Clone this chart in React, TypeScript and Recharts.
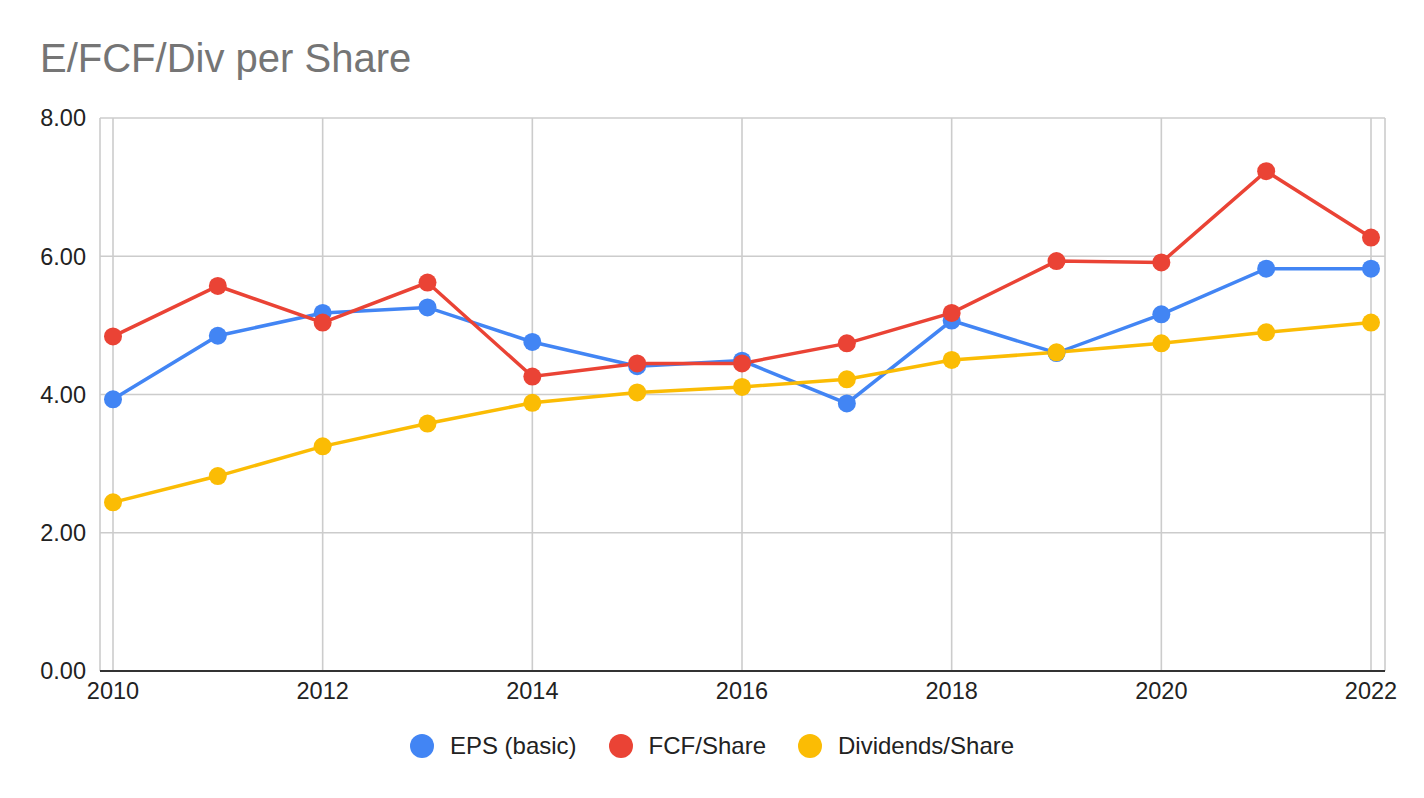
import React from 'react';
import { CartesianGrid, Legend, Line, LineChart, XAxis, YAxis } from 'recharts';

// values
const years = [2010, 2011, 2012, 2013, 2014, 2015, 2016, 2017, 2018, 2019, 2020, 2021, 2022];
const epsBasic = [3.93, 4.85, 5.18, 5.26, 4.76, 4.41, 4.49, 3.87, 5.07, 4.6, 5.16, 5.82, 5.82];
const fcfShare = [4.84, 5.57, 5.04, 5.62, 4.26, 4.45, 4.45, 4.74, 5.18, 5.93, 5.91, 7.23, 6.27];
const divShare = [2.44, 2.82, 3.25, 3.58, 3.88, 4.03, 4.11, 4.22, 4.5, 4.61, 4.74, 4.9, 5.04];
const xTicks = [2010, 2012, 2014, 2016, 2018, 2020, 2022];
const yTicks = [0, 2, 4, 6, 8];

const FONT = '"Liberation Sans", Arial, sans-serif';

const series = [
  { key: 'eps', name: 'EPS (basic)', color: '#4285F4' },
  { key: 'fcf', name: 'FCF/Share', color: '#EA4335' },
  { key: 'div', name: 'Dividends/Share', color: '#FBBC04' },
];

const chartData = years.map((year, i) => ({
  year,
  eps: epsBasic[i],
  fcf: fcfShare[i],
  div: divShare[i],
}));

// legend in series order (recharts sorts payload by name otherwise)
function LegendContent() {
  return (
    <div
      style={{
        display: 'flex',
        justifyContent: 'center',
        alignItems: 'center',
        gap: 32,
        fontFamily: FONT,
        fontSize: 24,
        lineHeight: '24px',
        color: '#222',
      }}
    >
      {series.map((s) => (
        <div key={s.key} style={{ display: 'flex', alignItems: 'center' }}>
          <span
            style={{
              display: 'inline-block',
              width: 24,
              height: 24,
              borderRadius: '50%',
              background: s.color,
              marginRight: 16,
            }}
          />
          <span>{s.name}</span>
        </div>
      ))}
    </div>
  );
}

export default function App() {
  return (
    <div style={{ position: 'absolute', left: 0, top: 0, width: 1424, height: 798, background: '#fff' }}>
      <div
        style={{
          position: 'absolute',
          left: 40,
          top: 38,
          fontFamily: FONT,
          fontSize: 40,
          lineHeight: '40px',
          color: '#757575',
          whiteSpace: 'nowrap',
          zIndex: 1,
        }}
      >
        E/FCF/Div per Share
      </div>
      <LineChart
        width={1424}
        height={798}
        data={chartData}
        margin={{ top: 118, right: 39, bottom: 87, left: 0 }}
      >
        <CartesianGrid stroke="#cccccc" strokeWidth={1.6} />
        <XAxis
          dataKey="year"
          type="number"
          domain={[2010, 2022]}
          ticks={xTicks}
          interval={0}
          padding={{ left: 13, right: 14 }}
          axisLine={{ stroke: '#333', strokeWidth: 2 }}
          tickLine={false}
          tickSize={0}
          tickMargin={11}
          height={40}
          tick={{ fill: '#222', fontSize: 23.5, fontFamily: FONT }}
        />
        <YAxis
          domain={[0, 8]}
          ticks={yTicks}
          interval={0}
          tickFormatter={(v) => Number(v).toFixed(2)}
          axisLine={false}
          tickLine={false}
          tickSize={0}
          tickMargin={14}
          width={100}
          tick={{ fill: '#222', fontSize: 23.5, fontFamily: FONT }}
        />
        <Legend
          layout="horizontal"
          verticalAlign="middle"
          align="center"
          wrapperStyle={{ left: 0, width: 1424, top: 734 }}
          content={LegendContent}
        />
        {series.map((s) => (
          <Line
            key={s.key}
            type="linear"
            dataKey={s.key}
            name={s.name}
            stroke={s.color}
            strokeWidth={3.5}
            dot={{ r: 9, fill: s.color, stroke: s.color, strokeWidth: 0 }}
            activeDot={false}
            isAnimationActive={false}
          />
        ))}
      </LineChart>
    </div>
  );
}
